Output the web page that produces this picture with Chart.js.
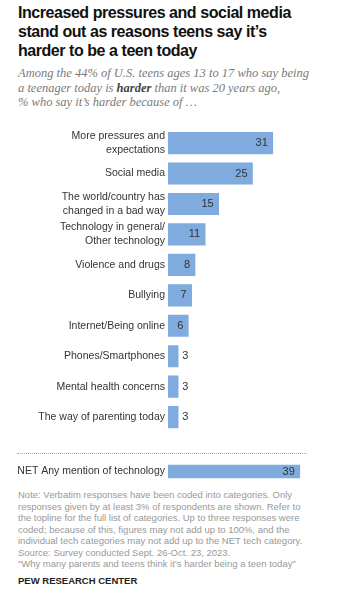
<!DOCTYPE html>
<html>
<head>
<meta charset="utf-8">
<script src="https://cdn.jsdelivr.net/npm/chart.js@4/dist/chart.umd.min.js"></script>
<style>
  body { margin: 0; background: #fff; width: 339px; height: 600px; position: relative; overflow: hidden; }
  .titulo { position: absolute; left: 18px; top: 3px; width: 320px; font-family: "Liberation Sans", Arial, sans-serif; font-weight: bold; font-size: 16px; line-height: 19px; color: #111; letter-spacing: -0.45px; }
  .sub { position: absolute; left: 18px; top: 66px; width: 320px; font-family: "Liberation Serif", serif; font-style: italic; font-size: 12.5px; line-height: 14.5px; color: #7a7a7a; }
  .sub b { color: #444; }
  #grafico { position: absolute; left: 0; top: 117.5px; }
  #graficoNet { position: absolute; left: 0; top: 455px; }
  .pontilhado { position: absolute; left: 17px; top: 453px; width: 290px; border-top: 1px dotted #aaa; }
  .nota { position: absolute; left: 18px; top: 489px; width: 320px; font-family: "Liberation Sans", Arial, sans-serif; font-size: 9.5px; line-height: 11.5px; color: #999; white-space: nowrap; }
  .pew { position: absolute; left: 18px; top: 575px; font-family: "Liberation Sans", Arial, sans-serif; font-weight: bold; font-size: 9.5px; color: #222; }
</style>
</head>
<body>
<div class="titulo">Increased pressures and social media<br>stand out as reasons teens say it’s<br>harder to be a teen today</div>
<div class="sub">Among the 44% of U.S. teens ages 13 to 17 who say being<br>a teenager today is <b>harder</b> than it was 20 years ago,<br>% who say it’s harder because of …</div>
<canvas id="grafico" width="339" height="331"></canvas>
<div class="pontilhado"></div>
<canvas id="graficoNet" width="339" height="33"></canvas>
<div class="nota">Note: Verbatim responses have been coded into categories. Only<br>responses given by at least 3% of respondents are shown. Refer to<br>the topline for the full list of categories. Up to three responses were<br>coded; because of this, figures may not add up to 100%, and the<br>individual tech categories may not add up to the NET tech category.<br>Source: Survey conducted Sept. 26-Oct. 23, 2023.<br>“Why many parents and teens think it’s harder being a teen today”</div>
<div class="pew">PEW RESEARCH CENTER</div>
<script>
const categorias = [
  ["More pressures and", "expectations"],
  "Social media",
  ["The world/country has", "changed in a bad way"],
  ["Technology in general/", "Other technology"],
  "Violence and drugs",
  "Bullying",
  "Internet/Being online",
  "Phones/Smartphones",
  "Mental health concerns",
  "The way of parenting today"
];
const valores = [31, 25, 15, 11, 8, 7, 6, 3, 3, 3];

const categoriaNet = ["NET Any mention of technology"];
const valorNet = [39];

const corBarra = "#7fabdf";

Chart.defaults.font.family = '"Liberation Sans", Arial, sans-serif';
Chart.defaults.color = "#333";

// escreve o numero dentro da barra, ou ao lado se a barra for curta
const rotulos = {
  id: "rotulos",
  afterDatasetsDraw(chart) {
    const c = chart.ctx;
    const meta = chart.getDatasetMeta(0);
    const dados = chart.data.datasets[0].data;
    c.save();
    c.font = '11px "Liberation Sans", Arial, sans-serif';
    c.fillStyle = "#333";
    c.textBaseline = "middle";
    meta.data.forEach((barra, i) => {
      const v = dados[i];
      if (v >= 6) {
        c.textAlign = "right";
        c.fillText(v, barra.x - 5, barra.y);
      } else {
        c.textAlign = "left";
        c.fillText(v, barra.x + 4, barra.y);
      }
    });
    c.restore();
  }
};

function criarGrafico(id, labels, data) {
  return new Chart(document.getElementById(id), {
    type: "bar",
    data: {
      labels: labels,
      datasets: [{
        data: data,
        backgroundColor: corBarra,
        barThickness: 21.5
      }]
    },
    options: {
      indexAxis: "y",
      responsive: false,
      animation: false,
      layout: { padding: { top: 0, bottom: 0, left: 0, right: 2 } },
      plugins: { legend: { display: false }, tooltip: { enabled: false } },
      scales: {
        x: { display: false, min: 0, max: 50 },
        y: {
          grid: { display: false, drawTicks: false },
          border: { display: false },
          ticks: { padding: 3, font: { size: 10.5, lineHeight: 1.3 }, color: "#333" },
          afterFit(scale) { scale.width = 168; }
        }
      }
    },
    plugins: [rotulos]
  });
}

criarGrafico("grafico", categorias, valores);
criarGrafico("graficoNet", categoriaNet, valorNet);
</script>
</body>
</html>
